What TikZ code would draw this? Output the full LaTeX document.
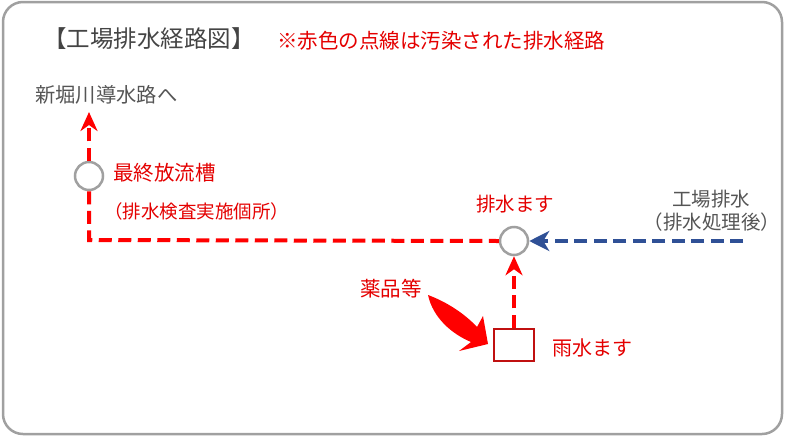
\documentclass[tikz,border=0pt]{standalone}
\usepackage{fontspec}
\setmainfont{Noto Sans CJK JP}
\usetikzlibrary{arrows.meta}
\definecolor{frameg}{RGB}{160,160,160}
\definecolor{darkt}{RGB}{68,68,68}
\definecolor{greyt}{RGB}{85,85,85}
\definecolor{redt}{RGB}{228,0,0}
\definecolor{redl}{RGB}{255,0,0}
\definecolor{boxred}{RGB}{192,16,16}
\definecolor{bluel}{RGB}{47,80,150}
\tikzset{
  fs/.style={font=\fontsize{#1}{#1}\selectfont},
  txt/.style={inner sep=0pt},
  reddash/.style={draw=redl, line width=4pt, dash pattern=on 13pt off 6.5pt},
  bluedash/.style={draw=bluel, line width=4pt, dash pattern=on 13pt off 6.5pt},
  redtip/.style={-{Stealth[length=19pt,width=17pt,inset=6pt]}},
  pit/.style={circle, draw=frameg, line width=2.5pt, fill=white, minimum size=28pt, inner sep=0pt},
  rainbox/.style={rectangle, draw=boxred, line width=2.5pt, fill=white, minimum width=40pt, minimum height=32pt, inner sep=0pt}
}
\begin{document}
\begin{tikzpicture}[x=1pt,y=-1pt]
\useasboundingbox (0,0) rectangle (800,437);
\draw[frameg, line width=2.5pt, rounded corners=20pt] (3,2) rectangle (782,434);
% texts
\node[txt, fs=23.5, text=darkt] (title) at (149,39) {【工場排水経路図】};
\node[txt, fs=20.5, text=redt, anchor=west] (note) at (277,41) {※赤色の点線は汚染された排水経路};
\node[txt, fs=20.3, text=greyt, anchor=west] (dest) at (35,95) {新堀川導水路へ};
\node[txt, fs=20.5, text=redt, anchor=west] (tanklbl) at (113,173) {最終放流槽};
\node[txt, fs=18.5, text=redt, anchor=west] (tanksub) at (104,211) {（排水検査実施個所）};
\node[txt, fs=19.5, text=redt] (pitlbl) at (515,204) {排水ます};
\node[txt, fs=19.5, text=greyt] (fact) at (711,199) {工場排水};
\node[txt, fs=19.5, text=greyt] (factsub) at (712,222) {（排水処理後）};
\node[txt, fs=20.5, text=redt] (chem) at (391,289) {薬品等};
\node[txt, fs=20, text=redt, anchor=west] (rainlbl) at (552,348) {雨水ます};
% shapes
\node[pit] (tank) at (89,176) {};
\node[pit] (pit) at (514,241) {};
\node[rainbox] (rain) at (514,345) {};
\coordinate (up) at (89,112);
\coordinate (corner) at (89,240);
\coordinate (bstart) at (743,241);
% connectors
\draw[reddash, redtip] (tank.north) -- (up);
\draw[reddash] (tank.south) -- (corner) -- (pit.west);
\draw[bluedash, -{Stealth[length=20pt,width=20pt,inset=6pt]}] (bstart) -- (pit.east);
\draw[reddash, redtip] (rain.north) -- (pit.south);
% curved fat arrow
\fill[redl] (428,295) .. controls (447,302) and (465,314) .. (477,327)
  -- (483,316) -- (488,344) -- (459,351) -- (471,342)
  .. controls (452,334) and (433,318) .. cycle;
\end{tikzpicture}
\end{document}
